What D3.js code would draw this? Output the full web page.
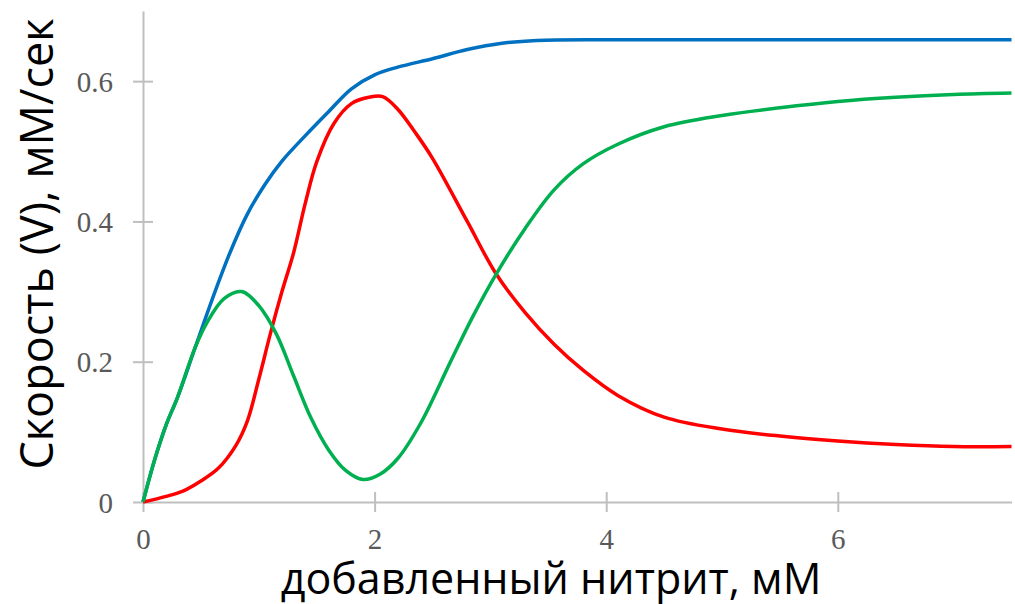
<!DOCTYPE html>
<html>
<head>
<meta charset="utf-8">
<script src="https://cdn.jsdelivr.net/npm/d3@7"></script>
<style>
	body { margin: 0; background: #fff; }
	svg { display: block; }
</style>
</head>
<body>
<div class="chart-container"></div>
<script>
////////////////////////////////////////////////////////////
//// Data //////////////////////////////////////////////////
////////////////////////////////////////////////////////////
const blueX = [0, 0.1, 0.2, 0.3, 0.45, 0.6, 0.75, 0.9, 1.05, 1.2, 1.4, 1.6, 1.8, 2.0, 2.2, 2.5, 2.8, 3.1, 3.4, 4, 5, 6, 7.5];
const blueV = [0, 0.06, 0.11, 0.15, 0.22, 0.29, 0.355, 0.41, 0.452, 0.486, 0.522, 0.556, 0.589, 0.609, 0.62, 0.632, 0.645, 0.654, 0.658, 0.659, 0.659, 0.659, 0.659];

const greenX = [0, 0.1, 0.2, 0.3, 0.45, 0.55, 0.7, 0.85, 1.0, 1.15, 1.3, 1.45, 1.6, 1.75, 1.9, 2.05, 2.2, 2.4, 2.65, 2.85, 3.05, 3.3, 3.55, 3.8, 4.1, 4.5, 5, 5.5, 6, 6.5, 7, 7.5];
const greenV = [0, 0.06, 0.11, 0.15, 0.22, 0.255, 0.29, 0.30, 0.28, 0.24, 0.18, 0.12, 0.075, 0.045, 0.032, 0.04, 0.062, 0.113, 0.198, 0.265, 0.325, 0.39, 0.445, 0.482, 0.51, 0.535, 0.551, 0.562, 0.571, 0.577, 0.581, 0.583];

const redX = [0, 0.2, 0.35, 0.5, 0.65, 0.8, 0.9, 1.0, 1.1, 1.2, 1.3, 1.4, 1.5, 1.65, 1.8, 1.95, 2.07, 2.2, 2.35, 2.5, 2.8, 3.05, 3.3, 3.55, 3.8, 4.1, 4.5, 5, 5.5, 6, 6.5, 7, 7.5];
const redV = [0, 0.008, 0.016, 0.03, 0.048, 0.08, 0.115, 0.175, 0.24, 0.3, 0.355, 0.425, 0.485, 0.54, 0.568, 0.577, 0.578, 0.56, 0.527, 0.49, 0.40, 0.325, 0.27, 0.225, 0.188, 0.152, 0.121, 0.104, 0.094, 0.087, 0.082, 0.079, 0.079];

const xTicks = [0, 2, 4, 6];
const yTicks = [0, 0.2, 0.4, 0.6];
const xTitle = "добавленный нитрит, мМ";
const yTitle = "Скорость (V), мМ/сек";

const series = [
	{ key: "blue", color: "#0070c0", xs: blueX, vs: blueV },
	{ key: "red", color: "#ff0000", xs: redX, vs: redV },
	{ key: "green", color: "#00b050", xs: greenX, vs: greenV }
];

////////////////////////////////////////////////////////////
//// Setup /////////////////////////////////////////////////
////////////////////////////////////////////////////////////
const width = 1015;
const height = 604;
const margin = { top: 11, right: 3.5, bottom: 102, left: 143 };

const x = d3.scaleLinear()
	.domain([0, 7.5])
	.range([margin.left, width - margin.right]);

const y = d3.scaleLinear()
	.domain([0, 0.7])
	.range([height - margin.bottom, margin.top]);

const line = d3.line()
	.x(d => x(d[0]))
	.y(d => y(d[1]))
	.curve(d3.curveCatmullRom.alpha(0.5));

const svg = d3.select(".chart-container")
	.append("svg")
	.attr("width", width)
	.attr("height", height);

////////////////////////////////////////////////////////////
//// Render ////////////////////////////////////////////////
////////////////////////////////////////////////////////////
const axisColor = "#bfbfbf";
const labelFont = "'Liberation Serif', 'Times New Roman', serif";

// y axis
const gy = svg.append("g")
	.attr("transform", `translate(${margin.left},0)`)
	.call(d3.axisLeft(y).tickValues(yTicks).tickFormat(d3.format("~g")).tickSize(10).tickSizeOuter(0));

gy.select(".domain").attr("stroke", axisColor).attr("stroke-width", 2);
gy.selectAll(".tick line").attr("x1", -10).attr("x2", 10).attr("stroke", axisColor).attr("stroke-width", 2);
gy.selectAll(".tick text")
	.attr("x", -30)
	.attr("dy", "0.35em")
	.attr("fill", "#595959")
	.style("font-family", labelFont)
	.style("font-size", "29px");

// x axis
const gx = svg.append("g")
	.attr("transform", `translate(0,${y(0)})`)
	.call(d3.axisBottom(x).tickValues(xTicks).tickFormat(d3.format("d")).tickSize(10).tickSizeOuter(0));

gx.select(".domain").attr("stroke", axisColor).attr("stroke-width", 2);
gx.selectAll(".tick line").attr("y1", -10).attr("y2", 10).attr("stroke", axisColor).attr("stroke-width", 2);
gx.selectAll(".tick text")
	.attr("y", 26)
	.attr("dy", "0.71em")
	.attr("fill", "#595959")
	.style("font-family", labelFont)
	.style("font-size", "29px");

// curves
svg.append("g")
	.selectAll("path")
	.data(series)
	.join("path")
	.attr("fill", "none")
	.attr("stroke", d => d.color)
	.attr("stroke-width", 3.5)
	.attr("stroke-linejoin", "round")
	.attr("d", d => line(d.xs.map((v, i) => [v, d.vs[i]])));

// axis titles
svg.append("text")
	.attr("x", 551)
	.attr("y", 594)
	.attr("text-anchor", "middle")
	.style("font-family", "'Open Sans', sans-serif")
	.style("font-size", "43px")
	.attr("fill", "#000")
	.text(xTitle);

svg.append("text")
	.attr("transform", "translate(53,244) rotate(-90)")
	.attr("text-anchor", "middle")
	.style("font-family", "'Open Sans', sans-serif")
	.style("font-size", "45px")
	.attr("fill", "#000")
	.text(yTitle);
</script>
</body>
</html>
